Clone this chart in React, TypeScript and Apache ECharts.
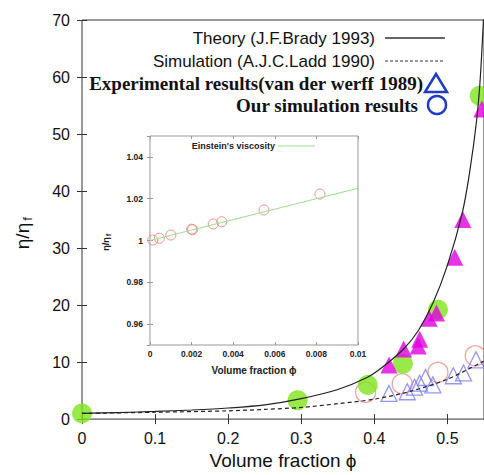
import React, { useEffect, useRef } from "react";
import * as echarts from "echarts";

const SANS = "'Liberation Sans', Arial, sans-serif";
const SERIF = "'Liberation Serif', 'Times New Roman', serif";

// ---- main chart data ----
const theoryPhi = [0, 0.05, 0.1, 0.15, 0.2, 0.25, 0.3, 0.35, 0.39, 0.41, 0.44, 0.46, 0.48, 0.5, 0.52, 0.53, 0.54, 0.545, 0.55];
const theoryEta = [1, 1.15, 1.35, 1.6, 1.95, 2.5, 3.6, 5.2, 7.3, 9.0, 12.3, 15.5, 20.3, 27, 36, 43, 52.5, 60, 72];

const laddPhi = [0, 0.1, 0.2, 0.25, 0.3, 0.35, 0.4, 0.45, 0.5, 0.55];
const laddEta = [1, 1.2, 1.45, 1.7, 2.05, 2.7, 3.5, 4.9, 7.0, 10.2];

const greenPhi = [0, 0.295, 0.391, 0.439, 0.487, 0.544];
const greenEta = [1, 3.3, 6.0, 9.7, 19.2, 56.7];

const magentaPhi = [0.42, 0.44, 0.46, 0.462, 0.475, 0.485, 0.51, 0.521, 0.547];
const magentaEta = [9.5, 12.3, 12.8, 14.0, 17.7, 18.6, 28.4, 35, 54.4];

const blueTriPhi = [0.42, 0.445, 0.455, 0.462, 0.47, 0.48, 0.508, 0.522, 0.539];
const blueTriEta = [4.5, 4.8, 5.6, 6.3, 7.3, 6.0, 7.6, 8.1, 10.4];

const redCircPhi = [0.388, 0.438, 0.487, 0.538];
const redCircEta = [4.7, 6.2, 8.2, 11.1];

// ---- inset data ----
const insetPhi = [0.00013, 0.00045, 0.001, 0.002, 0.00205, 0.00304, 0.00345, 0.00548, 0.00817];
const insetEta = [1.0002, 1.0011, 1.0026, 1.0054, 1.0052, 1.0079, 1.009, 1.0146, 1.0222];
const einsteinPhi = [0, 0.01];
const einsteinEta = [1, 1.025];

const zip = (a: number[], b: number[]) => a.map((v, i) => [v, b[i]]);

export default function App() {
  const ref = useRef<HTMLDivElement>(null);
  useEffect(() => {
    if (!ref.current) return;
    const chart = echarts.init(ref.current, undefined, { renderer: "svg" });
    const tickMain = { inside: true, length: 5, lineStyle: { color: "#333", width: 1 } };
    const tickInset = { inside: true, length: 3, lineStyle: { color: "#999", width: 1 } };
    const mainLabel = { fontSize: 16, color: "#111", fontFamily: SANS };
    const insetLabel = { fontSize: 8.5, color: "#222", fontFamily: SANS, fontWeight: "bold" as const };
    const fmt = (v: number) => String(parseFloat(v.toFixed(4)));

    chart.setOption({
      animation: false,
      textStyle: { fontFamily: SANS },
      grid: [
        { left: 82, top: 20, width: 402, height: 404, show: true, borderColor: "#333", borderWidth: 1, backgroundColor: "transparent" },
        { left: 150, top: 136, width: 208, height: 209, show: true, borderColor: "#999", borderWidth: 1, backgroundColor: "#fff" },
      ],
      xAxis: [
        {
          gridIndex: 0, type: "value", min: 0, max: 0.55, interval: 0.1, position: "bottom",
          axisLine: { show: false }, axisTick: tickMain, splitLine: { show: false },
          axisLabel: { ...mainLabel, margin: 11, showMaxLabel: false, formatter: fmt },
          name: "Volume fraction \u03d5", nameLocation: "middle", nameGap: 31,
          nameTextStyle: { fontSize: 19, color: "#111", fontFamily: SANS },
        },
        {
          gridIndex: 0, type: "value", min: 0, max: 0.55, interval: 0.1, position: "top",
          axisLine: { show: false }, axisTick: tickMain, splitLine: { show: false }, axisLabel: { show: false },
        },
        {
          gridIndex: 1, type: "value", min: 0, max: 0.01, interval: 0.002, position: "bottom",
          axisLine: { show: false }, axisTick: tickInset, splitLine: { show: false },
          axisLabel: { ...insetLabel, margin: 4, formatter: fmt },
          name: "Volume fraction \u03d5", nameLocation: "middle", nameGap: 20,
          nameTextStyle: { fontSize: 10, color: "#222", fontFamily: SANS, fontWeight: "bold" },
        },
        {
          gridIndex: 1, type: "value", min: 0, max: 0.01, interval: 0.002, position: "top",
          axisLine: { show: false }, axisTick: tickInset, splitLine: { show: false }, axisLabel: { show: false },
        },
      ],
      yAxis: [
        {
          gridIndex: 0, type: "value", min: 0, max: 70, interval: 10, position: "left",
          axisLine: { show: false }, axisTick: tickMain, splitLine: { show: false },
          axisLabel: { ...mainLabel, margin: 12 },
        },
        {
          gridIndex: 0, type: "value", min: 0, max: 70, interval: 10, position: "right",
          axisLine: { show: false }, axisTick: tickMain, splitLine: { show: false }, axisLabel: { show: false },
        },
        {
          gridIndex: 1, type: "value", min: 0.95, max: 1.05, splitNumber: 5, position: "left",
          axisLine: { show: false }, axisTick: tickInset, splitLine: { show: false },
          axisLabel: { ...insetLabel, margin: 7, showMinLabel: false, showMaxLabel: false, formatter: (v: number) => String(parseFloat(v.toFixed(3))) },
        },
        {
          gridIndex: 1, type: "value", min: 0.95, max: 1.05, splitNumber: 5, position: "right",
          axisLine: { show: false }, axisTick: tickInset, splitLine: { show: false }, axisLabel: { show: false },
        },
      ],
      series: [
        {
          type: "scatter", xAxisIndex: 0, yAxisIndex: 0, symbol: "circle", symbolSize: 20,
          itemStyle: { color: "rgba(0,0,0,0)", borderColor: "#EE8E86", borderWidth: 1.3 },
          data: zip(redCircPhi, redCircEta),
        },
        {
          type: "scatter", xAxisIndex: 0, yAxisIndex: 0, symbol: "triangle", symbolSize: 16,
          itemStyle: { color: "rgba(0,0,0,0)", borderColor: "#7C7CF2", borderWidth: 1.3 },
          data: zip(blueTriPhi, blueTriEta),
        },
        {
          type: "scatter", xAxisIndex: 0, yAxisIndex: 0, symbol: "circle", symbolSize: 20,
          itemStyle: { color: "#80E41E" },
          data: zip(greenPhi, greenEta),
        },
        {
          type: "scatter", xAxisIndex: 0, yAxisIndex: 0, symbol: "triangle", symbolSize: 17,
          itemStyle: { color: "#E000E0" },
          data: zip(magentaPhi, magentaEta),
        },
        {
          type: "line", xAxisIndex: 0, yAxisIndex: 0, symbol: "none", smooth: 0.3,
          lineStyle: { color: "#222", width: 1.2 }, clip: true,
          data: zip(theoryPhi, theoryEta),
        },
        {
          type: "line", xAxisIndex: 0, yAxisIndex: 0, symbol: "none", smooth: 0.3,
          lineStyle: { color: "#222", width: 1.2, type: [4, 3] }, clip: true,
          data: zip(laddPhi, laddEta),
        },
        {
          type: "line", xAxisIndex: 2, yAxisIndex: 2, symbol: "none",
          lineStyle: { color: "#9ADF8E", width: 1 },
          data: zip(einsteinPhi, einsteinEta),
        },
        {
          type: "scatter", xAxisIndex: 2, yAxisIndex: 2, symbol: "circle", symbolSize: 10,
          itemStyle: { color: "rgba(0,0,0,0)", borderColor: "#E57A70", borderWidth: 1 },
          data: zip(insetPhi, insetEta),
        },
      ],
      graphic: [
        // main y title
        { type: "text", x: 22, y: 236, rotation: Math.PI / 2, style: { text: "\u03b7/\u03b7", fontSize: 19, fontFamily: SANS, fill: "#111", align: "center", verticalAlign: "middle" } },
        { type: "text", x: 27, y: 219, rotation: Math.PI / 2, style: { text: "f", fontSize: 13, fontFamily: SANS, fill: "#111", align: "center", verticalAlign: "middle" } },
        // inset y title
        { type: "text", x: 106, y: 244, rotation: Math.PI / 2, style: { text: "\u03b7/\u03b7", fontSize: 9, fontFamily: SANS, fontWeight: "bold", fill: "#222", align: "center", verticalAlign: "middle" } },
        { type: "text", x: 108.5, y: 235, rotation: Math.PI / 2, style: { text: "f", fontSize: 6.5, fontFamily: SANS, fontWeight: "bold", fill: "#222", align: "center", verticalAlign: "middle" } },
        // main legend
        { type: "text", x: 375, y: 38, style: { text: "Theory (J.F.Brady 1993)", fontSize: 17, fontFamily: SANS, fill: "#111", align: "right", verticalAlign: "middle" } },
        { type: "line", shape: { x1: 385, y1: 38, x2: 445, y2: 38 }, style: { stroke: "#333", lineWidth: 1.3 } },
        { type: "text", x: 375, y: 61, style: { text: "Simulation (A.J.C.Ladd 1990)", fontSize: 17, fontFamily: SANS, fill: "#111", align: "right", verticalAlign: "middle" } },
        { type: "line", shape: { x1: 385, y1: 61, x2: 445, y2: 61 }, style: { stroke: "#333", lineWidth: 1.2, lineDash: [3, 2] } },
        { type: "text", x: 423, y: 83, style: { text: "Experimental results(van der werff 1989)", fontSize: 19, fontWeight: "bold", fontFamily: SERIF, fill: "#111", align: "right", verticalAlign: "middle" } },
        { type: "polygon", shape: { points: [[436, 74], [447, 92], [425, 92]] }, style: { fill: "none", stroke: "#1F3BC4", lineWidth: 2.5 } },
        { type: "text", x: 418, y: 105, style: { text: "Our simulation results", fontSize: 19, fontWeight: "bold", fontFamily: SERIF, fill: "#111", align: "right", verticalAlign: "middle" } },
        { type: "circle", shape: { cx: 437, cy: 105, r: 9 }, style: { fill: "none", stroke: "#1F3BC4", lineWidth: 2.5 } },
        // inset legend
        { type: "text", x: 275, y: 146, z: 10, style: { text: "Einstein's viscosity", fontSize: 9, fontWeight: "bold", fontFamily: SANS, fill: "#222", align: "right", verticalAlign: "middle" } },
        { type: "line", z: 10, shape: { x1: 278, y1: 146, x2: 315, y2: 146 }, style: { stroke: "#9ADF8E", lineWidth: 1 } },
      ],
    });
    return () => chart.dispose();
  }, []);
  return <div ref={ref} style={{ position: "absolute", left: 0, top: 0, width: 484, height: 475, background: "#fff" }} />;
}
